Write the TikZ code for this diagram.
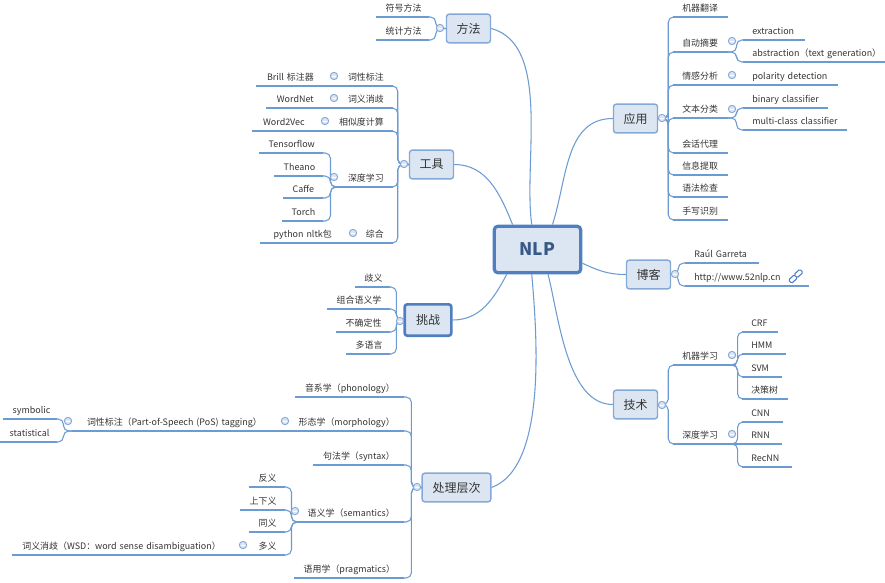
\documentclass[tikz,border=0pt]{standalone}
\usepackage{fontspec}
\setmainfont{Noto Sans CJK SC}
\usetikzlibrary{arrows.meta}
\definecolor{colorLinea}{HTML}{6C9BD2}
\definecolor{colorCaja}{HTML}{DCE6F2}
\definecolor{colorBorde}{HTML}{85A9D6}
\definecolor{colorFuerte}{HTML}{4F7FC0}
\definecolor{colorTexto}{HTML}{333333}

\begin{document}
\begin{tikzpicture}[
        x=0.75pt, y=-0.75pt,
        topic/.style={draw=colorBorde, fill=colorCaja, line width=1.1pt, rounded corners=2pt,
            minimum width=33pt, minimum height=21.5pt, inner sep=0pt, text=colorTexto, font=\fontsize{9}{10}\selectfont},
        under/.style={colorLinea, line width=0.8pt},
        leaf/.style={inner xsep=6.75pt, inner ysep=2.2pt, text height=6.5pt, text depth=1.5pt, text=colorTexto,
            font=\fontsize{6.7}{8}\selectfont,
            append after command={(\tikzlastnode.south west) edge[under] (\tikzlastnode.south east)}},
        rleaf/.style={leaf, anchor=south west, align=left, text width=#1*0.75pt-13.5pt},
        lleaf/.style={leaf, anchor=south east, align=right, text width=#1*0.75pt-13.5pt},
        tog/.style={circle, draw=colorBorde, fill=colorCaja, line width=0.7pt, inner sep=0pt, minimum size=5.5pt,
            path picture={\draw[white, line width=0.6pt] ([xshift=-1.5pt]path picture bounding box.center) -- ([xshift=1.5pt]path picture bounding box.center);}},
        brr/.style={under, rounded corners=4pt, to path={-- ++(#1,0) |- (\tikztotarget)}},
        rel/.style={colorLinea, line width=0.8pt},
        lnk/.style={draw=colorFuerte, fill=white, line width=0.8pt, rotate=42, rounded corners=1pt, inner sep=0pt,
            minimum width=6pt, minimum height=3.4pt}
    ]
        \useasboundingbox (0,0) rectangle (885,582);
        % centre
        \node[topic, line width=2.4pt, draw=colorFuerte, minimum width=65pt, minimum height=35pt, rounded corners=3pt,
            text=colorFuerte!70!black, font=\fontsize{13}{16}\selectfont\bfseries] (nlp) at (537.5,249.5) {NLP};
        \node[topic] (yy) at (635.5,118.5) {应用};
        \node[topic] (bk) at (648.5,274.5) {博客};
        \node[topic] (js) at (635.5,404.5) {技术};
        \node[topic] (ff) at (468.5,28.5) {方法};
        \node[topic] (gj) at (431.5,164.5) {工具};
        \node[topic, draw=colorFuerte, line width=2pt, minimum width=35pt, minimum height=23.5pt] (tz) at (428,320) {挑战};
        \node[topic, minimum width=51.5pt] (cc) at (456.5,487.5) {处理层次};

        \draw[rel] (ff.east) to[out=-15, in=98, looseness=0.8] (nlp.103);
        \draw[rel] (gj.east) to[out=0, in=112] (nlp.135);
        \draw[rel] (yy.west) to[out=180, in=72] (nlp.59);
        \draw[rel] (bk.west) to[out=180, in=-25] (nlp.343);
        \draw[rel] (js.west) to[out=180, in=-76, looseness=0.8] (nlp.293);
        \draw[rel] (cc.east) to[out=20, in=-85, looseness=0.7] (nlp.257);
        \draw[rel] (tz.east) to[out=0, in=-118] (nlp.219);

        % aplicaciones
        \node[rleaf=54] (y1) at (673,17) {机器翻译};
        \node[rleaf=54] (y2) at (673,52) {自动摘要};
        \node[rleaf=54] (y3) at (673,85) {情感分析};
        \node[rleaf=54] (y4) at (673,118) {文本分类};
        \node[rleaf=54] (y5) at (673,153) {会话代理};
        \node[rleaf=54] (y6) at (673,175) {信息提取};
        \node[rleaf=54] (y7) at (673,197) {语法检查};
        \node[rleaf=54] (y8) at (673,220) {手写识别};
        \node[rleaf=61] (y21) at (743,40) {extraction};
        \node[rleaf=142] (y22) at (743,62) {\mbox{abstraction（text generation）}};
        \node[rleaf=94] (y31) at (743,85) {polarity detection};
        \node[rleaf=84] (y41) at (743,108) {\mbox{binary classifier}};
        \node[rleaf=103] (y42) at (743,130) {\mbox{multi-class classifier}};
        \draw[brr=10] (yy.east) to (y1.south west); \draw[brr=10] (yy.east) to (y2.south west);
        \draw[brr=10] (yy.east) to (y3.south west); \draw[brr=10] (yy.east) to (y4.south west);
        \draw[brr=10] (yy.east) to (y5.south west); \draw[brr=10] (yy.east) to (y6.south west);
        \draw[brr=10] (yy.east) to (y7.south west); \draw[brr=10] (yy.east) to (y8.south west);
        \draw[brr=9] (y2.south east) to (y21.south west); \draw[brr=9] (y2.south east) to (y22.south west);
        \draw[under] (y3.south east) -- (y31.south west);
        \draw[brr=9] (y4.south east) to (y41.south west); \draw[brr=9] (y4.south east) to (y42.south west);

        % blog
        \node[rleaf=73] (b1) at (685,263) {Raúl Garreta};
        \node[rleaf=123] (b2) at (685,286) {http://www.52nlp.cn};
        \draw[brr=7] (bk.east) to (b1.south west); \draw[brr=7] (bk.east) to (b2.south west);
        \node[lnk] (icoa) at (793,279) {};
        \node[lnk] (icob) at (798.5,273.5) {};

        % tecnicas
        \node[rleaf=62] (j1) at (673,365) {机器学习};
        \node[rleaf=62] (j2) at (673,444) {深度学习};
        \node[rleaf=35] (j11) at (742,332) {CRF};
        \node[rleaf=43] (j12) at (742,354) {HMM};
        \node[rleaf=39] (j13) at (742,377) {SVM};
        \node[rleaf=45] (j14) at (742,399) {决策树};
        \node[rleaf=40] (j21) at (742,422) {CNN};
        \node[rleaf=39] (j22) at (742,444) {RNN};
        \node[rleaf=49] (j23) at (742,467) {RecNN};
        \draw[brr=10] (js.east) to (j1.south west); \draw[brr=10] (js.east) to (j2.south west);
        \draw[brr=2] (j1.south east) to (j11.south west); \draw[brr=2] (j1.south east) to (j12.south west);
        \draw[brr=2] (j1.south east) to (j13.south west); \draw[brr=2] (j1.south east) to (j14.south west);
        \draw[brr=2] (j2.south east) to (j21.south west); \draw[under] (j2.south east) -- (j22.south west);
        \draw[brr=2] (j2.south east) to (j23.south west);

        % metodos
        \node[lleaf=52] (f1) at (429,17) {符号方法};
        \node[lleaf=52] (f2) at (429,40) {统计方法};
        \draw[brr=-10] (ff.west) to (f1.south east); \draw[brr=-10] (ff.west) to (f2.south east);

        % herramientas
        \node[lleaf=55] (g1) at (393,86) {词性标注};
        \node[lleaf=55] (g2) at (393,108) {词义消歧};
        \node[lleaf=63] (g3) at (393,131) {相似度计算};
        \node[lleaf=55] (g4) at (393,187) {深度学习};
        \node[lleaf=36] (g5) at (393,243) {综合};
        \node[lleaf=66] (g11) at (323,86) {Brill 标注器};
        \node[lleaf=56] (g21) at (323,108) {WordNet};
        \node[lleaf=61] (g31) at (314,131) {Word2Vec};
        \node[lleaf=63] (g41) at (323,153) {Tensorflow};
        \node[lleaf=48] (g42) at (323,176) {Theano};
        \node[lleaf=39] (g43) at (323,198) {Caffe};
        \node[lleaf=40] (g44) at (323,221) {Torch};
        \node[lleaf=80] (g51) at (341,243) {python nltk包};
        \draw[brr=-11] (gj.west) to (g1.south east); \draw[brr=-11] (gj.west) to (g2.south east);
        \draw[brr=-11] (gj.west) to (g3.south east); \draw[brr=-11] (gj.west) to (g4.south east);
        \draw[brr=-11] (gj.west) to (g5.south east);
        \draw[under] (g1.south west) -- (g11.south east); \draw[under] (g2.south west) -- (g21.south east);
        \draw[under] (g3.south west) -- (g31.south east); \draw[under] (g5.south west) -- (g51.south east);
        \draw[brr=-7] (g4.south west) to (g41.south east); \draw[brr=-7] (g4.south west) to (g42.south east);
        \draw[brr=-7] (g4.south west) to (g43.south east); \draw[brr=-7] (g4.south west) to (g44.south east);

        % retos
        \node[lleaf=34] (t1) at (390,287) {歧义};
        \node[lleaf=62] (t2) at (390,309) {组合语义学};
        \node[lleaf=53] (t3) at (390,332) {不确定性};
        \node[lleaf=43] (t4) at (390,354) {多语言};
        \draw[brr=-7] (tz.west) to (t1.south east); \draw[brr=-7] (tz.west) to (t2.south east);
        \draw[brr=-7] (tz.west) to (t3.south east); \draw[brr=-7] (tz.west) to (t4.south east);

        % niveles
        \node[lleaf=108] (c1) at (404,397) {音系学（phonology）};
        \node[lleaf=115] (c2) at (404,431) {形态学（morphology）};
        \node[lleaf=90] (c3) at (404,465) {句法学（syntax）};
        \node[lleaf=105] (c4) at (404,522) {语义学（semantics）};
        \node[lleaf=109] (c5) at (404,578) {语用学（pragmatics）};
        \node[lleaf=198] (c21) at (271,431) {词性标注（Part-of-Speech (PoS) tagging）};
        \node[lleaf=53] (c211) at (57,419) {symbolic};
        \node[lleaf=56] (c212) at (57,442) {statistical};
        \node[lleaf=35] (c41) at (285,487) {反义};
        \node[lleaf=44] (c42) at (285,510) {上下义};
        \node[lleaf=35] (c43) at (285,532) {同义};
        \node[lleaf=35] (c44) at (285,555) {多义};
        \node[lleaf=217] (c441) at (230,555) {词义消歧（WSD：word sense disambiguation）};
        \draw[brr=-10] (cc.west) to (c1.south east); \draw[brr=-10] (cc.west) to (c2.south east);
        \draw[brr=-10] (cc.west) to (c3.south east); \draw[brr=-10] (cc.west) to (c4.south east);
        \draw[brr=-10] (cc.west) to (c5.south east);
        \draw[under] (c2.south west) -- (c21.south east);
        \draw[brr=-9] (c21.south west) to (c211.south east); \draw[brr=-9] (c21.south west) to (c212.south east);
        \draw[brr=-7] (c4.south west) to (c41.south east); \draw[brr=-7] (c4.south west) to (c42.south east);
        \draw[brr=-7] (c4.south west) to (c43.south east); \draw[brr=-7] (c4.south west) to (c44.south east);
        \draw[under] (c44.south west) -- (c441.south east);

        % botones
        \node[tog] (ty) at (662,118) {}; \node[tog] (ty2) at (732,41) {}; \node[tog] (ty3) at (732,75) {};
        \node[tog] (ty4) at (732,109) {}; \node[tog] (tb) at (675,274) {}; \node[tog] (tj) at (662,405) {};
        \node[tog] (tj1) at (732,355) {}; \node[tog] (tj2) at (732,434) {}; \node[tog] (tf) at (440,28) {};
        \node[tog] (tg) at (404,164) {}; \node[tog] (tg1) at (334,76) {}; \node[tog] (tg2) at (334,98) {};
        \node[tog] (tg3) at (325,121) {}; \node[tog] (tg4) at (334,177) {}; \node[tog] (tg5) at (353,233) {};
        \node[tog] (tt) at (400,321) {}; \node[tog] (tc) at (417,487) {}; \node[tog] (tc2) at (285,421) {};
        \node[tog] (tc21) at (68,421) {}; \node[tog] (tc4) at (295,511) {}; \node[tog] (tc44) at (243,545) {};
    \end{tikzpicture}
\end{document}
